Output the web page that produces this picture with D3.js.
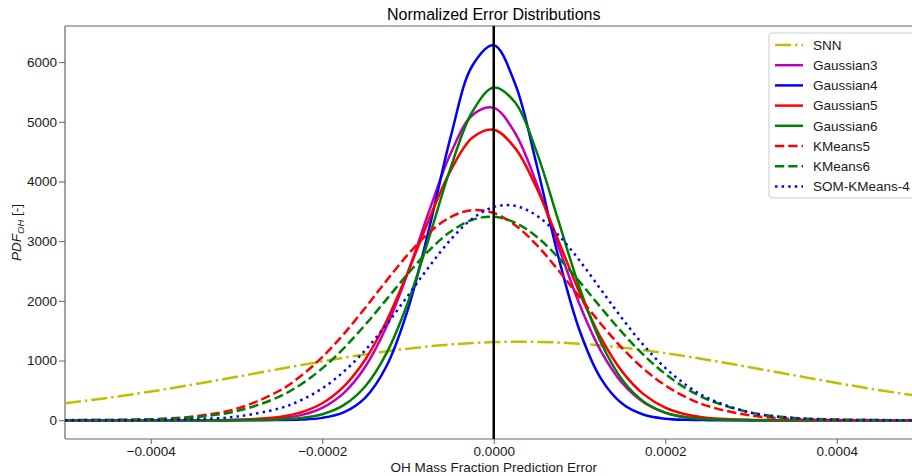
<!DOCTYPE html>
<html>
<head>
<meta charset="utf-8">
<script src="https://cdn.jsdelivr.net/npm/d3@7"></script>
<style>
  body { margin: 0; background: #fff; }
  svg { font-family: "Liberation Sans", Arial, sans-serif; }
</style>
</head>
<body>
<div id="chart"></div>
<script>
const xGrid = [-0.0005, -0.00045, -0.0004, -0.00035, -0.0003, -0.00025, -0.000225, -0.0002, -0.000175, -0.00015,
  -0.000125, -0.0001, -0.000075, -0.00005, -0.000025, 0, 0.000025, 0.00005, 0.000075, 0.0001,
  0.000125, 0.00015, 0.000175, 0.0002, 0.000225, 0.00025, 0.0003, 0.00035, 0.0004, 0.00045, 0.0005]

const snn = [285, 375, 480, 599, 727, 858, 923, 986, 1046, 1102, 1154, 1199, 1238, 1270, 1294, 1309, 1315, 1312, 1301, 1280,
  1252, 1216, 1173, 1124, 1069, 1010, 884, 753, 624, 503, 395]
const gaussian3 = [0, 0, 0, 0, 3, 31, 85, 207, 454, 891, 1569, 2481, 3518, 4476, 5109, 5233, 4808, 3964, 2932, 1944,
  1159, 619, 297, 128, 49, 17, 1, 0, 0, 0, 0]
const gaussian4 = [0, 0, 0, 0, 0, 2, 10, 39, 132, 376, 909, 1862, 3233, 4759, 5939, 6282, 5633, 4281, 2759, 1507,
  697, 274, 91, 26, 6, 1, 0, 0, 0, 0, 0]
const gaussian5 = [0, 0, 0, 1, 7, 55, 131, 284, 563, 1013, 1663, 2484, 3381, 4191, 4732, 4867, 4559, 3890, 3023, 2140,
  1379, 810, 433, 211, 94, 38, 5, 0, 0, 0, 0]
const gaussian6 = [0, 0, 0, 0, 1, 11, 35, 99, 252, 565, 1124, 1977, 3078, 4240, 5168, 5575, 5322, 4496, 3361, 2223,
  1301, 674, 309, 125, 45, 14, 1, 0, 0, 0, 0]
const kmeans5 = [1, 4, 16, 62, 191, 493, 740, 1057, 1443, 1880, 2339, 2777, 3149, 3407, 3520, 3471, 3268, 2937, 2519, 2063,
  1613, 1204, 858, 583, 379, 235, 78, 22, 5, 1, 0]
const kmeans6 = [1, 3, 13, 48, 151, 395, 599, 868, 1204, 1597, 2025, 2457, 2851, 3163, 3358, 3409, 3310, 3075, 2731, 2321,
  1886, 1466, 1090, 775, 527, 343, 127, 39, 10, 2, 0]
const somKmeans4 = [0, 0, 3, 15, 60, 198, 334, 534, 812, 1171, 1605, 2088, 2581, 3029, 3376, 3573, 3592, 3429, 3108, 2676,
  2188, 1699, 1252, 877, 583, 368, 126, 35, 8, 1, 0]

const xTicks = [-0.0004, -0.0002, 0, 0.0002, 0.0004]
const yTicks = [0, 1000, 2000, 3000, 4000, 5000, 6000]

const series = [
  { name: 'SNN', values: snn, color: '#bfbf00', dash: '16,4,2.5,4' },
  { name: 'Gaussian3', values: gaussian3, color: '#bf00bf', dash: null },
  { name: 'Gaussian4', values: gaussian4, color: '#0000ff', dash: null },
  { name: 'Gaussian5', values: gaussian5, color: '#ff0000', dash: null },
  { name: 'Gaussian6', values: gaussian6, color: '#008000', dash: null },
  { name: 'KMeans5', values: kmeans5, color: '#ff0000', dash: '9.25,4' },
  { name: 'KMeans6', values: kmeans6, color: '#008000', dash: '9.25,4' },
  { name: 'SOM-KMeans-4', values: somKmeans4, color: '#0000ff', dash: '2.5,4.1' },
]

const totalWidth = 912
const totalHeight = 476
const marginLeft = 65
const marginTop = 26
const width = 857.5
const height = 413
const axeColor = '#666666'
const textColor = '#1a1a1a'

const svg = d3.select('#chart')
  .append('svg')
    .attr('width', totalWidth)
    .attr('height', totalHeight)

svg.append('defs')
  .append('clipPath')
    .attr('id', 'plot-clip')
  .append('rect')
    .attr('width', width)
    .attr('height', height)

const chart = svg.append('g')
  .attr('transform', 'translate(' + marginLeft + ',' + marginTop + ')')

const x = d3.scaleLinear()
  .domain([-0.0005, 0.0005])
  .range([0, width])

const y = d3.scaleLinear()
  .domain([-315, 6605])
  .range([height, 0])

// axes
const xAxis = chart.append('g')
  .attr('transform', `translate(0,${height})`)
  .call(d3.axisBottom(x).tickValues(xTicks).tickFormat(d3.format('.4f')).tickSize(5).tickPadding(2))

const yAxis = chart.append('g')
  .call(d3.axisLeft(y).tickValues(yTicks).tickFormat(d3.format('d')).tickSize(6).tickPadding(2))

for (const axis of [xAxis, yAxis]) {
  axis.select('.domain').remove()
  axis.selectAll('.tick line')
    .attr('stroke', axeColor)
    .attr('stroke-width', 1)
  axis.selectAll('.tick text')
    .style('fill', textColor)
    .style('font-size', '13.5px')
    .style('font-family', '"Liberation Sans", Arial, sans-serif')
}

// spines
chart.append('line')
  .attr('x1', 0).attr('x2', 0).attr('y1', 0).attr('y2', height)
  .attr('stroke', axeColor).attr('stroke-width', 1.2)
chart.append('line')
  .attr('x1', 0).attr('x2', width).attr('y1', 0).attr('y2', 0)
  .attr('stroke', axeColor).attr('stroke-width', 1.2)
chart.append('line')
  .attr('x1', 0).attr('x2', width).attr('y1', height).attr('y2', height)
  .attr('stroke', axeColor).attr('stroke-width', 1.2)
chart.append('line')
  .attr('x1', width).attr('x2', width).attr('y1', 0).attr('y2', height)
  .attr('stroke', axeColor).attr('stroke-width', 1.2)

// curves
const line = d3.line()
  .x((d, i) => x(xGrid[i]))
  .y(d => y(d))
  .curve(d3.curveCatmullRom.alpha(0.5))

chart.append('g')
  .attr('clip-path', 'url(#plot-clip)')
  .selectAll('path')
  .data(series)
  .join('path')
    .attr('d', d => line(d.values))
    .attr('fill', 'none')
    .attr('stroke', d => d.color)
    .attr('stroke-width', 2.5)
    .attr('stroke-dasharray', d => d.dash)

// zero line
chart.append('line')
  .attr('x1', x(0)).attr('x2', x(0))
  .attr('y1', 0).attr('y2', height)
  .attr('stroke', '#000')
  .attr('stroke-width', 2.5)

// title and labels
svg.append('text')
  .attr('x', marginLeft + x(0))
  .attr('y', 20)
  .attr('text-anchor', 'middle')
  .style('font-size', '16px')
  .style('fill', '#000')
  .text('Normalized Error Distributions')

svg.append('text')
  .attr('x', marginLeft + x(0))
  .attr('y', 471.5)
  .attr('text-anchor', 'middle')
  .style('font-size', '13.5px')
  .style('fill', textColor)
  .text('OH Mass Fraction Prediction Error')

const yLabel = svg.append('text')
  .attr('transform', `translate(21,${marginTop + height / 2}) rotate(-90)`)
  .attr('text-anchor', 'middle')
  .style('font-size', '13.5px')
  .style('fill', textColor)
yLabel.append('tspan').style('font-style', 'italic').text('PDF')
yLabel.append('tspan').style('font-style', 'italic').style('font-size', '9.5px').attr('dy', 3).text('OH')
yLabel.append('tspan').attr('dy', -3).text(' [-]')

// legend
const legend = svg.append('g')
  .attr('transform', 'translate(769,33)')

legend.append('rect')
  .attr('width', 146)
  .attr('height', 165)
  .attr('rx', 3)
  .attr('fill', 'rgba(255,255,255,0.8)')
  .attr('stroke', '#cccccc')
  .attr('stroke-width', 1)

const entry = legend.selectAll('g.entry')
  .data(series)
  .join('g')
    .attr('class', 'entry')
    .attr('transform', (d, i) => `translate(0,${12 + i * 20.2})`)

entry.append('line')
  .attr('x1', 6).attr('x2', 34)
  .attr('stroke', d => d.color)
  .attr('stroke-width', 2.5)
  .attr('stroke-dasharray', d => d.dash)

entry.append('text')
  .attr('x', 44)
  .attr('dy', '0.35em')
  .style('font-size', '13.5px')
  .style('fill', textColor)
  .text(d => d.name)
</script>
</body>
</html>
